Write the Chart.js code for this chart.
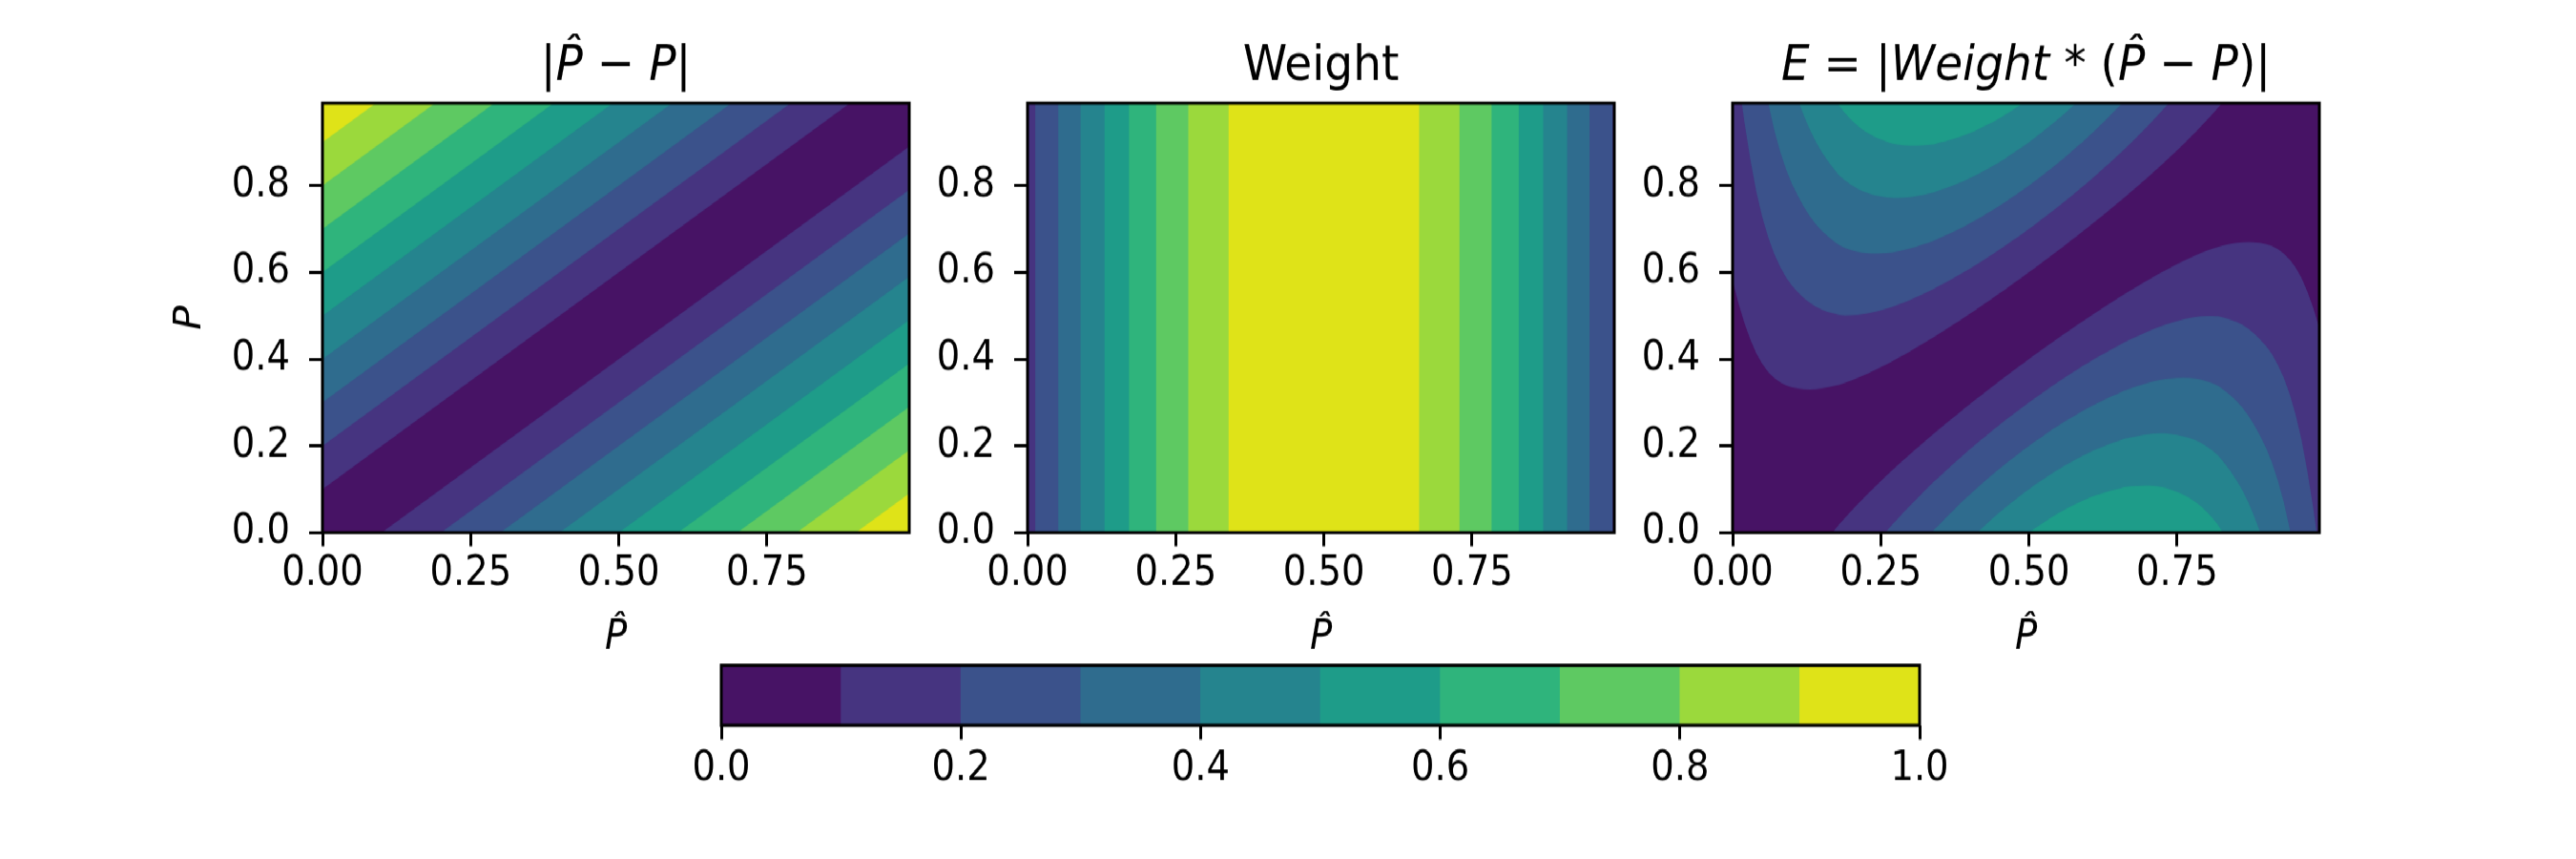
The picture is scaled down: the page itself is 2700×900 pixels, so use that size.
<!DOCTYPE html>
<html>
<head>
<meta charset="utf-8">
<script src="https://cdn.jsdelivr.net/npm/chart.js@4.4.1/dist/chart.umd.min.js"></script>
<style>
  html, body { margin: 0; background: #fff; }
  /* the reference is a little taller than it is wide, so the whole figure is stretched */
  #figure { position: absolute; left: 0; top: 0; width: 2700px; height: 818px; transform: scaleY(1.1); transform-origin: 0 0; }
  #figure canvas { position: absolute; }
</style>
</head>
<body>
<div id="figure">
  <canvas id="diffChart" width="1000" height="700" style="left:0;top:0"></canvas>
  <canvas id="weightChart" width="1000" height="700" style="left:739px;top:0"></canvas>
  <canvas id="errorChart" width="1000" height="700" style="left:1478px;top:0"></canvas>
  <canvas id="colorbar" width="1456" height="200" style="left:656px;top:600px"></canvas>
</div>
<script>
// contour levels and the viridis colour of each band
const levels = [0, 0.1, 0.2, 0.3, 0.4, 0.5, 0.6, 0.7, 0.8, 0.9, 1.0];
const bandColors = ['#471365', '#463480', '#3b528b', '#2f6c8e', '#25848e', '#1e9c89', '#2fb47c', '#5ec962', '#9bd93c', '#dfe318'];

// P-hat grid (0 .. 0.99) and the weight
const pHat = Array.from({length: 100}, (_, i) => i / 100);
const weight = [
  0.172, 0.193, 0.216, 0.241, 0.268, 0.295, 0.322, 0.349, 0.375, 0.401,
  0.426, 0.450, 0.475, 0.500, 0.525, 0.549, 0.573, 0.597, 0.622, 0.644,
  0.665, 0.686, 0.706, 0.725, 0.744, 0.762, 0.780, 0.798, 0.814, 0.830,
  0.845, 0.859, 0.873, 0.887, 0.901, 0.910, 0.922, 0.932, 0.942, 0.952,
  0.960, 0.968, 0.974, 0.980, 0.986, 0.990, 0.994, 0.996, 0.998, 1.000,
  1.000, 1.000, 0.998, 0.996, 0.994, 0.990, 0.986, 0.980, 0.974, 0.968,
  0.960, 0.952, 0.942, 0.932, 0.922, 0.910, 0.901, 0.887, 0.873, 0.859,
  0.845, 0.830, 0.814, 0.798, 0.780, 0.762, 0.744, 0.725, 0.706, 0.686,
  0.665, 0.644, 0.622, 0.597, 0.573, 0.549, 0.525, 0.500, 0.475, 0.450,
  0.426, 0.401, 0.375, 0.349, 0.322, 0.295, 0.268, 0.241, 0.216, 0.193
];

const xTicks = [0, 0.25, 0.5, 0.75];
const yTicks = [0, 0.2, 0.4, 0.6, 0.8];
const barTicks = [0, 0.2, 0.4, 0.6, 0.8, 1.0];

const gridMax = pHat[pHat.length - 1];
const tickFont = {family: 'DejaVu Sans', size: 38.5};
const titleSize = 47;

// one filled band region, drawn as a closed line shape
function region(points, k) {
  return {
    data: points,
    backgroundColor: bandColors[k],
    borderColor: 'transparent',
    borderWidth: 0,
    pointRadius: 0,
    fill: 'shape',
    order: 100 - k
  };
}

// index runs where inside(value) holds
function runs(vals, inside) {
  const out = [];
  let s = -1;
  vals.forEach((v, i) => {
    if (inside(v) && s < 0) s = i;
    const last = i === vals.length - 1;
    if (s >= 0 && (!inside(v) || last)) {
      out.push([s, inside(v) ? i : i - 1]);
      s = -1;
    }
  });
  return out;
}

// P-hat where vals reaches target between grid points i and j
function crossAt(vals, i, j, target) {
  return pHat[i] + (target - vals[i]) / (vals[j] - vals[i]) * (pHat[j] - pHat[i]);
}

const fullSquare = k => region([{x: pHat[0], y: 0}, {x: gridMax, y: 0}, {x: gridMax, y: gridMax}, {x: pHat[0], y: gridMax}], k);

// |P-hat - P|
const diffSets = [fullSquare(0)];
for (let k = 1; k < bandColors.length; k++) {
  const L = levels[k];
  diffSets.push(region([{x: L, y: 0}, {x: gridMax, y: 0}, {x: gridMax, y: gridMax - L}], k));
  diffSets.push(region([{x: pHat[0], y: L}, {x: pHat[0], y: gridMax}, {x: gridMax - L, y: gridMax}], k));
}

// Weight
const last = pHat.length - 1;
const weightSets = [fullSquare(0)];
for (let k = 1; k < bandColors.length; k++) {
  const L = levels[k];
  runs(weight, w => w >= L).forEach(([s, e]) => {
    const a = s > 0 ? crossAt(weight, s - 1, s, L) : pHat[0];
    const b = e < last ? crossAt(weight, e, e + 1, L) : gridMax;
    weightSets.push(region([{x: a, y: 0}, {x: b, y: 0}, {x: b, y: gridMax}, {x: a, y: gridMax}], k));
  });
}

// E = |Weight * (P-hat - P)|
const errorSets = [fullSquare(0)];
for (let k = 1; k < bandColors.length; k++) {
  const L = levels[k];
  // below the diagonal: P <= P-hat - L / Weight
  const low = pHat.map((x, i) => x - L / weight[i]);
  runs(low, v => v > 0).forEach(([s, e]) => {
    const pts = [];
    pts.push(s > 0 ? {x: crossAt(low, s - 1, s, 0), y: 0} : {x: pHat[0], y: 0});
    for (let i = s; i <= e; i++) pts.push({x: pHat[i], y: low[i]});
    pts.push(e < last ? {x: crossAt(low, e, e + 1, 0), y: 0} : {x: gridMax, y: 0});
    errorSets.push(region(pts, k));
  });
  // above the diagonal: P >= P-hat + L / Weight
  const high = pHat.map((x, i) => x + L / weight[i]);
  runs(high, v => v < gridMax).forEach(([s, e]) => {
    const pts = [];
    pts.push(s > 0 ? {x: crossAt(high, s - 1, s, gridMax), y: gridMax} : {x: pHat[0], y: gridMax});
    for (let i = s; i <= e; i++) pts.push({x: pHat[i], y: high[i]});
    pts.push(e < last ? {x: crossAt(high, e, e + 1, gridMax), y: gridMax} : {x: gridMax, y: gridMax});
    errorSets.push(region(pts, k));
  });
}

// frame round the plot area and a title made of upright / italic pieces
function decor(parts) {
  return {
    id: 'decor',
    afterDraw(chart) {
      const {ctx, chartArea: a} = chart;
      ctx.save();
      ctx.strokeStyle = '#000';
      ctx.lineWidth = 3;
      ctx.strokeRect(a.left, a.top, a.right - a.left, a.bottom - a.top);
      if (parts) {
        const fonts = parts.map(p => (p[1] ? 'italic ' : '') + titleSize + 'px "DejaVu Sans"');
        const widths = parts.map((p, i) => { ctx.font = fonts[i]; return ctx.measureText(p[0]).width; });
        let x = (a.left + a.right) / 2 - widths.reduce((s, w) => s + w, 0) / 2;
        ctx.fillStyle = '#000';
        ctx.textBaseline = 'alphabetic';
        ctx.textAlign = 'left';
        parts.forEach((p, i) => {
          ctx.font = fonts[i];
          ctx.fillText(p[0], x, 75.7);
          x += widths[i];
        });
      }
      ctx.restore();
    }
  };
}

function panelOptions(yTitle) {
  return {
    responsive: false,
    animation: false,
    devicePixelRatio: 1,
    events: [],
    layout: {padding: {left: 177, right: 47, top: 98.2, bottom: 68.7}},
    plugins: {legend: {display: false}, tooltip: {enabled: false}},
    scales: {
      x: {
        type: 'linear',
        min: 0,
        max: gridMax,
        afterBuildTicks: s => { s.ticks = xTicks.map(v => ({value: v})); },
        afterFit: s => { s.height = 124; },
        ticks: {font: tickFont, color: '#000', padding: 3.4, maxRotation: 0, autoSkip: false, callback: v => v.toFixed(2)},
        grid: {drawOnChartArea: false, tickLength: 13, tickWidth: 3, tickColor: '#000'},
        border: {display: false},
        title: {display: true, text: 'P\u0302', color: '#000', font: {...tickFont, style: 'italic'}, padding: 0}
      },
      y: {
        type: 'linear',
        min: 0,
        max: gridMax,
        afterBuildTicks: s => { s.ticks = yTicks.map(v => ({value: v})); },
        afterFit: s => { s.width = 161; },
        ticks: {font: tickFont, color: '#000', padding: 20, autoSkip: false, callback: v => v.toFixed(1)},
        grid: {drawOnChartArea: false, tickLength: 14, tickWidth: 3, tickColor: '#000'},
        border: {display: false},
        title: {display: yTitle, text: 'P', color: '#000', font: {...tickFont, style: 'italic'}, padding: 0}
      }
    }
  };
}

new Chart(document.getElementById('diffChart'), {
  type: 'line',
  data: {datasets: diffSets},
  options: panelOptions(true),
  plugins: [decor([['|', 0], ['P\u0302', 1], [' \u2212 ', 0], ['P', 1], ['|', 0]])]
});

new Chart(document.getElementById('weightChart'), {
  type: 'line',
  data: {datasets: weightSets},
  options: panelOptions(false),
  plugins: [decor([['Weight', 0]])]
});

new Chart(document.getElementById('errorChart'), {
  type: 'line',
  data: {datasets: errorSets},
  options: panelOptions(false),
  plugins: [decor([['E', 1], [' = ', 0], ['|', 0], ['Weight', 1], [' * ', 0], ['(', 0], ['P\u0302', 1], [' \u2212 ', 0], ['P', 1], [')', 0], ['|', 0]])]
});

// colour bar: each band runs from its level to the top, higher bands on top
const barSets = bandColors.map((c, k) => ({
  data: [[levels[k], levels[levels.length - 1]]],
  backgroundColor: c,
  borderWidth: 0,
  grouped: false,
  barPercentage: 1,
  categoryPercentage: 1,
  order: 100 - k
}));

new Chart(document.getElementById('colorbar'), {
  type: 'bar',
  data: {labels: [''], datasets: barSets},
  options: {
    indexAxis: 'y',
    responsive: false,
    animation: false,
    devicePixelRatio: 1,
    events: [],
    layout: {padding: {left: 100, right: 100, top: 33.6, bottom: 29.1}},
    plugins: {legend: {display: false}, tooltip: {enabled: false}},
    scales: {
      x: {
        type: 'linear',
        min: 0,
        max: 1,
        afterBuildTicks: s => { s.ticks = barTicks.map(v => ({value: v})); },
        afterFit: s => { s.height = 80; },
        ticks: {font: tickFont, color: '#000', padding: 5, maxRotation: 0, autoSkip: false, callback: v => v.toFixed(1)},
        grid: {drawOnChartArea: false, tickLength: 13.5, tickWidth: 3, tickColor: '#000'},
        border: {display: false}
      },
      y: {display: false}
    }
  },
  plugins: [decor(null)]
});
</script>
</body>
</html>
